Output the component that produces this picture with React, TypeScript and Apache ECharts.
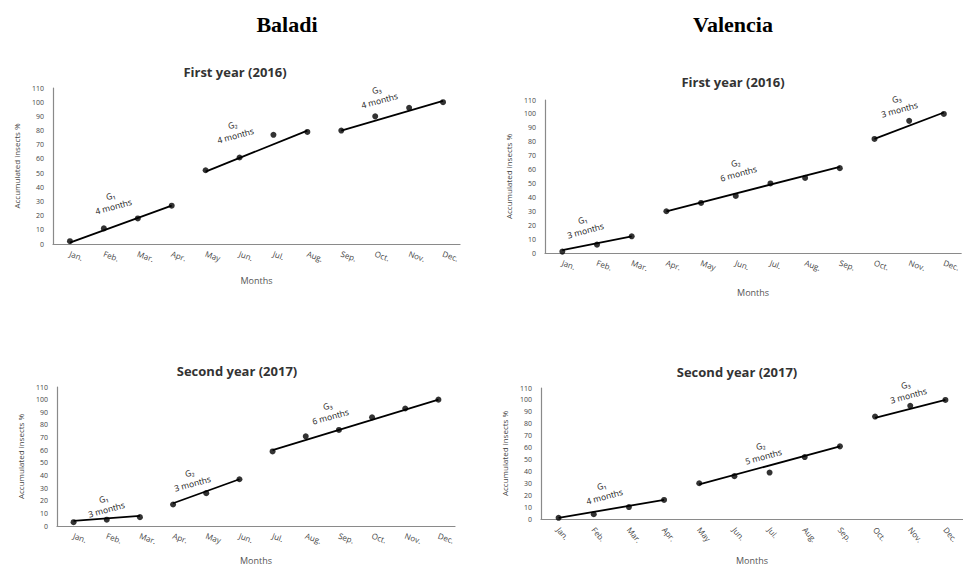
import React, { useEffect, useRef } from "react";
import * as echarts from "echarts";

const months = ["Jan.", "Feb.", "Mar.", "Apr.", "May", "Jun.", "Jul.", "Aug.", "Sep.", "Oct.", "Nov.", "Dec."];
const yTicks = [0, 110, 10]; // min, max, interval

const baladi2016 = [2, 11, 18, 27, 52, 61, 77, 79, 80, 90, 96, 100];
const valencia2016 = [1, 6, 12, 30, 36, 41, 50, 54, 61, 82, 95, 100];
const baladi2017 = [3, 5, 7, 17, 26, 37, 59, 71, 76, 86, 93, 100];
const valencia2017 = [1, 4, 10, 16, 30, 36, 39, 52, 61, 86, 95, 100];

// trend segments: [startMonthIndex, endMonthIndex, startValue, endValue]
const baladi2016Trends = [[0, 3, 1, 27], [4, 7, 51, 80], [8, 11, 80, 101]];
const valencia2016Trends = [[0, 2, 2, 12], [3, 8, 30, 62], [9, 11, 82, 101]];
const baladi2017Trends = [[0, 2, 4, 8], [3, 5, 18, 37], [6, 11, 60, 100]];
const valencia2017Trends = [[0, 3, 1, 16], [4, 8, 29, 61], [9, 11, 85, 100]];

const baladi2016Gens = ["G\u2081\n4 months", "G\u2082\n4 months", "G\u2083\n4 months"];
const valencia2016Gens = ["G\u2081\n3 months", "G\u2082\n6 months", "G\u2083\n3 months"];
const baladi2017Gens = ["G\u2081\n3 months", "G\u2082\n3 months", "G\u2083\n6 months"];
const valencia2017Gens = ["G\u2081\n4 months", "G\u2082\n5 months", "G\u2083\n3 months"];

const panelTitles = ["First year (2016)", "First year (2016)", "Second year (2017)", "Second year (2017)"];
const headers = ["Baladi", "Valencia"];

const FONT = "'Open Sans', 'DejaVu Sans', sans-serif";

export default function App() {
  const ref = useRef<HTMLDivElement>(null);
  useEffect(() => {
    if (!ref.current) return;
    const chart = echarts.init(ref.current, null, { renderer: "svg" });

    const panels = [
      { data: baladi2016, trends: baladi2016Trends, gens: baladi2016Gens, grid: { left: 53, top: 88, width: 407, height: 156 }, rot: -20,
        titlePos: [230, 60], labelPos: [[112, 201], [234, 130], [378, 95]], nameGap: 32 },
      { data: valencia2016, trends: valencia2016Trends, gens: valencia2016Gens, grid: { left: 545, top: 100, width: 423, height: 153 }, rot: -20,
        titlePos: [728, 70], labelPos: [[584, 225], [737, 168], [898, 104]], nameGap: 35 },
      { data: baladi2017, trends: baladi2017Trends, gens: baladi2017Gens, grid: { left: 57, top: 387, width: 398, height: 142 }, rot: -20,
        titlePos: [232, 359], labelPos: [[105, 504], [191, 478], [329, 411]], nameGap: 30 },
      { data: valencia2017, trends: valencia2017Trends, gens: valencia2017Gens, grid: { left: 541, top: 388, width: 432, height: 135 }, rot: -50,
        titlePos: [732, 360], labelPos: [[603, 491], [762, 451], [907, 390]], nameGap: 37 },
    ];

    const grids: any[] = [];
    const xAxes: any[] = [];
    const yAxes: any[] = [];
    const series: any[] = [];
    const titles: any[] = [];
    const graphics: any[] = [];

    panels.forEach((p, i) => {
      grids.push({ ...p.grid, containLabel: false });
      xAxes.push({
        type: "category",
        gridIndex: i,
        data: months,
        boundaryGap: true,
        axisLine: { lineStyle: { color: "#8a8a8a", width: 1.2 } },
        axisTick: { show: false },
        axisLabel: { rotate: p.rot, fontSize: 8, color: "#444", fontFamily: FONT, margin: 9, interval: 0 },
        name: "Months",
        nameLocation: "middle",
        nameGap: p.nameGap,
        nameTextStyle: { fontSize: 9, color: "#555", fontFamily: FONT },
      });
      yAxes.push({
        type: "value",
        gridIndex: i,
        min: yTicks[0],
        max: yTicks[1],
        interval: yTicks[2],
        splitLine: { show: false },
        axisLine: { show: true, lineStyle: { color: "#8a8a8a", width: 1.2 } },
        axisTick: { show: false },
        axisLabel: { fontSize: 7, color: "#444", fontFamily: FONT, margin: 9 },
        name: "Accumulated insects %",
        nameLocation: "middle",
        nameGap: 33,
        nameTextStyle: { fontSize: 8, color: "#444", fontFamily: FONT },
      });
      p.trends.forEach((t) => {
        series.push({
          type: "line",
          xAxisIndex: i,
          yAxisIndex: i,
          data: [[months[t[0]], t[2]], [months[t[1]], t[3]]],
          showSymbol: false,
          symbol: "none",
          lineStyle: { color: "#000", width: 1.8 },
          z: 2,
        });
      });
      series.push({
        type: "scatter",
        xAxisIndex: i,
        yAxisIndex: i,
        data: p.data,
        symbol: "circle",
        symbolSize: 6,
        itemStyle: { color: "#000" },
        z: 3,
      });
      titles.push({
        text: panelTitles[i],
        left: p.titlePos[0],
        top: p.titlePos[1],
        textAlign: "center",
        textStyle: { fontSize: 13, fontWeight: "bold", color: "#333", fontFamily: FONT },
      });
      p.labelPos.forEach((lp, k) => {
        graphics.push({
          type: "text",
          x: lp[0],
          y: lp[1],
          rotation: 0.27,
          style: {
            text: p.gens[k],
            align: "center",
            verticalAlign: "middle",
            fontSize: 8.5,
            lineHeight: 11,
            fill: "#222",
            fontFamily: FONT,
          },
          z: 10,
        });
      });
    });

    titles.push({ text: headers[0], left: 282, top: 8, textAlign: "center",
      textStyle: { fontSize: 22, fontWeight: "bold", color: "#000", fontFamily: "'Liberation Serif', 'Times New Roman', serif" } });
    titles.push({ text: headers[1], left: 728, top: 8, textAlign: "center",
      textStyle: { fontSize: 22, fontWeight: "bold", color: "#000", fontFamily: "'Liberation Serif', 'Times New Roman', serif" } });

    chart.setOption({
      animation: false,
      backgroundColor: "#fff",
      title: titles,
      grid: grids,
      xAxis: xAxes,
      yAxis: yAxes,
      series,
      graphic: graphics,
    });
    return () => chart.dispose();
  }, []);
  return <div ref={ref} style={{ position: "fixed", left: 0, top: 0, width: 963, height: 566, background: "#fff" }} />;
}
